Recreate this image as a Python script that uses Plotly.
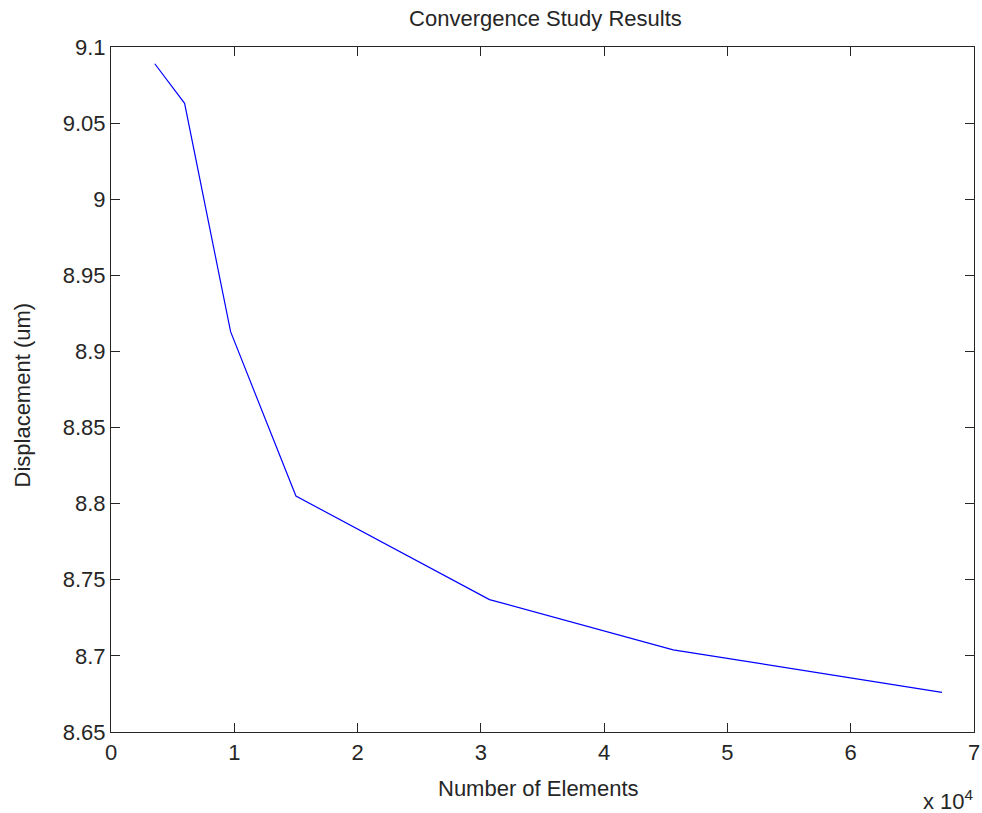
import plotly.graph_objects as go

# Data
elements = [3550, 5970, 9700, 15000, 30700, 45600, 67400]
displacement = [9.089, 9.063, 8.913, 8.805, 8.737, 8.704, 8.676]

x_tickvals = [0, 10000, 20000, 30000, 40000, 50000, 60000, 70000]
x_ticktext = ["0", "1", "2", "3", "4", "5", "6", "7"]
y_tickvals = [8.65, 8.7, 8.75, 8.8, 8.85, 8.9, 8.95, 9.0, 9.05, 9.1]
y_ticktext = ["8.65", "8.7", "8.75", "8.8", "8.85", "8.9", "8.95", "9", "9.05", "9.1"]

FONT = "Liberation Sans, Arial, sans-serif"
FS = 22

fig = go.Figure()
fig.add_trace(go.Scatter(x=elements, y=displacement, mode="lines",
                         line=dict(color="#0000ff", width=1.2),
                         showlegend=False, hoverinfo="x+y"))

axis_common = dict(showgrid=False, zeroline=False, showline=True,
                   linecolor="#262626", linewidth=1.2, mirror="ticks",
                   ticks="inside", ticklen=9, tickwidth=1.2, tickcolor="#262626",
                   ticklabeloverflow="allow",
                   tickfont=dict(family=FONT, size=FS, color="#262626"))

fig.update_xaxes(range=[0, 70000], tickvals=x_tickvals, ticktext=x_ticktext,
                 **axis_common)
fig.update_yaxes(range=[8.65, 9.1], tickvals=y_tickvals, ticktext=y_ticktext,
                 **axis_common)

fig.update_layout(
    width=982, height=813,
    margin=dict(l=111, r=2, t=47, b=81),
    paper_bgcolor="white", plot_bgcolor="white",
    font=dict(family=FONT, size=FS, color="#262626"),
    title=dict(text="Convergence Study Results", x=0.5554, xanchor="center",
               y=1 - 18 / 813, yanchor="middle", yref="container",
               font=dict(family=FONT, size=FS, color="#262626")),
    annotations=[
        dict(text="Number of Elements", xref="paper", yref="paper", x=0.5, y=0,
             xanchor="center", yanchor="middle", xshift=-4, yshift=-56,
             showarrow=False, font=dict(family=FONT, size=FS, color="#262626")),
        dict(text="Displacement (um)", xref="paper", yref="paper", x=0, y=0.5,
             xanchor="center", yanchor="middle", xshift=-89, yshift=-6,
             textangle=-90, showarrow=False,
             font=dict(family=FONT, size=FS, color="#262626")),
        dict(text="x 10<sup>4</sup>", xref="paper", yref="paper", x=1, y=0,
             xanchor="right", yanchor="middle", xshift=2, yshift=-68,
             showarrow=False, font=dict(family=FONT, size=FS, color="#262626")),
    ],
)

fig.write_html("out.html")
